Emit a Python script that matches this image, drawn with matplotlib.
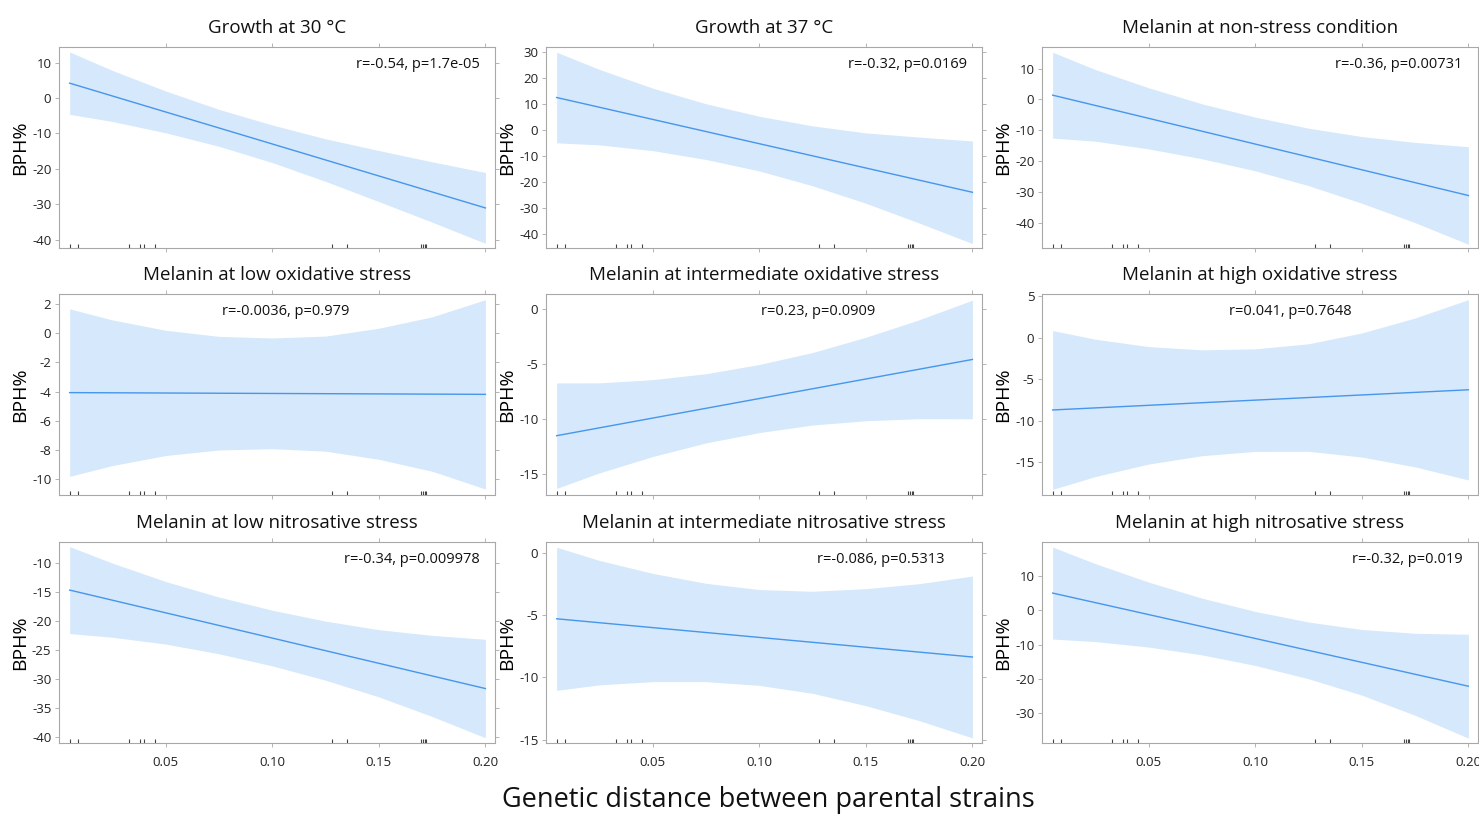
import matplotlib
matplotlib.use("Agg")
import matplotlib.pyplot as plt
import numpy as np

plt.rcParams['font.family'] = ['Open Sans', 'DejaVu Sans']

# ---------------- data ----------------
titles = [
    "Growth at 30 °C", "Growth at 37 °C", "Melanin at non-stress condition",
    "Melanin at low oxidative stress", "Melanin at intermediate oxidative stress", "Melanin at high oxidative stress",
    "Melanin at low nitrosative stress", "Melanin at intermediate nitrosative stress", "Melanin at high nitrosative stress",
]
stats_text = [
    "r=-0.54, p=1.7e-05", "r=-0.32, p=0.0169", "r=-0.36, p=0.00731",
    "r=-0.0036, p=0.979", "r=0.23, p=0.0909", "r=0.041, p=0.7648",
    "r=-0.34, p=0.009978", "r=-0.086, p=0.5313", "r=-0.32, p=0.019",
]
# genetic distance grid at which the band was read
band_x = [0.005, 0.025, 0.05, 0.075, 0.10, 0.125, 0.15, 0.175, 0.20]
# regression line end points (x = 0.005 and x = 0.20)
line_x = [0.005, 0.20]
line_y = [
    [4.2, -31.0], [12.5, -23.9], [1.4, -31.1],
    [-4.07, -4.19], [-11.5, -4.56], [-8.72, -6.28],
    [-14.7, -31.7], [-5.29, -8.36], [5.06, -22.19],
]
band_upper = [
    [13.0, 7.8, 2.0, -3.2, -7.6, -11.5, -14.8, -18.0, -21.0],
    [29.9, 23.3, 16.1, 10.1, 5.3, 1.6, -1.1, -2.7, -4.2],
    [15.3, 9.7, 3.8, -1.4, -5.7, -9.3, -12.0, -13.9, -15.3],
    [1.68, 0.92, 0.21, -0.21, -0.32, -0.19, 0.35, 1.13, 2.31],
    [-6.7, -6.69, -6.40, -5.86, -5.02, -3.93, -2.54, -0.95, 0.84],
    [0.88, -0.17, -1.06, -1.45, -1.33, -0.72, 0.59, 2.40, 4.62],
    [-7.2, -10.04, -13.22, -15.90, -18.18, -20.06, -21.54, -22.52, -23.2],
    [0.46, -0.60, -1.64, -2.44, -2.94, -3.08, -2.87, -2.47, -1.86],
    [18.51, 13.67, 8.27, 3.58, -0.31, -3.41, -5.60, -6.70, -6.99],
]
band_lower = [
    [-4.6, -6.6, -9.8, -13.6, -18.2, -23.5, -29.2, -35.0, -41.0],
    [-4.9, -5.7, -7.9, -11.3, -15.7, -21.4, -28.1, -35.7, -43.6],
    [-12.5, -13.5, -16.0, -19.2, -23.1, -27.9, -33.6, -39.9, -46.9],
    [-9.82, -9.08, -8.39, -8.01, -7.92, -8.09, -8.65, -9.47, -10.69],
    [-16.3, -14.89, -13.40, -12.16, -11.22, -10.53, -10.14, -9.95, -9.96],
    [-18.32, -16.77, -15.26, -14.25, -13.73, -13.72, -14.41, -15.60, -17.18],
    [-22.2, -22.84, -24.02, -25.70, -27.78, -30.26, -33.14, -36.52, -40.2],
    [-11.04, -10.60, -10.34, -10.34, -10.64, -11.28, -12.27, -13.47, -14.86],
    [-8.39, -9.13, -10.73, -13.02, -16.11, -20.01, -24.80, -30.70, -37.39],
]
rug_x = [0.0052, 0.009, 0.033, 0.038, 0.040, 0.045, 0.128, 0.135, 0.170, 0.1708, 0.1716, 0.1723]
y_ticks = [
    [-40, -30, -20, -10, 0, 10], [-40, -30, -20, -10, 0, 10, 20, 30], [-40, -30, -20, -10, 0, 10],
    [-10, -8, -6, -4, -2, 0, 2], [-15, -10, -5, 0], [-15, -10, -5, 0, 5],
    [-40, -35, -30, -25, -20, -15, -10], [-15, -10, -5, 0], [-30, -20, -10, 0, 10],
]
y_limits = [
    (-42.3, 14.4), (-45.3, 31.9), (-48.1, 17.0),
    (-11.1, 2.7), (-16.9, 1.4), (-19.0, 5.3),
    (-41.1, -6.4), (-15.27, 0.88), (-38.8, 20.0),
]
x_ticks = [0.05, 0.10, 0.15, 0.20]
x_tick_labels = ["0.05", "0.10", "0.15", "0.20"]

# ---------------- layout ----------------
W, H = 1479, 821
fig = plt.figure(figsize=(W / 100, H / 100), dpi=100)
lefts = [59, 546, 1042]
tops = [47, 294, 542]
aw, ah = 436, 201
# stat text placement (axes fraction x, ha)
txt_pos = [(0.965, 'right'), (0.965, 'right'), (0.965, 'right'),
           (0.52, 'center'), (0.625, 'center'), (0.57, 'center'),
           (0.965, 'right'), (0.915, 'right'), (0.965, 'right')]

line_col = '#4596ec'
band_col = '#d6e8fb'
spine_col = '#a8a8a8'

for i in range(9):
    r, c = divmod(i, 3)
    ax = fig.add_axes([lefts[c] / W, 1 - (tops[r] + ah) / H, aw / W, ah / H])
    ax.fill_between(band_x, band_lower[i], band_upper[i], color=band_col, linewidth=0, zorder=1)
    ax.plot(line_x, line_y[i], color=line_col, linewidth=1.0, zorder=2)
    ax.vlines(rug_x, 0, 0.018, transform=ax.get_xaxis_transform(), color='#444444', linewidth=0.8, zorder=3)
    ax.set_xlim(0.0, 0.2045)
    ax.set_ylim(*y_limits[i])
    ax.set_yticks(y_ticks[i])
    ax.set_yticklabels([str(v) for v in y_ticks[i]])
    ax.set_xticks(x_ticks)
    if r == 2:
        ax.set_xticklabels(x_tick_labels)
    else:
        ax.set_xticklabels([])
    ax.tick_params(axis='both', direction='out', length=3, width=0.6, color=spine_col,
                   labelsize=9.5, labelcolor='#222222', top=True, right=True, pad=2.5)
    ax.tick_params(axis='x', pad=6)
    for s in ax.spines.values():
        s.set_color(spine_col)
        s.set_linewidth(0.8)
    ax.set_title(titles[i], fontsize=13.5, pad=10, color='#111111')
    ax.set_ylabel("BPH%", fontsize=14, color='#000000')
    ax.yaxis.set_label_coords(-0.068, 0.5)
    tx, ha = txt_pos[i]
    ax.text(tx, 0.915, stats_text[i], transform=ax.transAxes, ha=ha, va='center',
            fontsize=10.5, color='#111111')

fig.text(768 / W, 1 - 800 / H, "Genetic distance between parental strains",
         ha='center', va='center', fontsize=19.5, color='#111111')

fig.savefig("out.png", dpi=100)
